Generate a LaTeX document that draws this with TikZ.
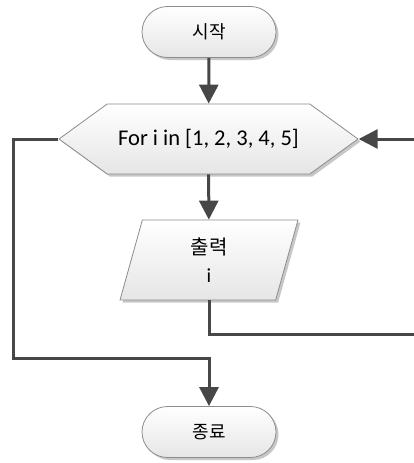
\documentclass[tikz,border=0pt]{standalone}
\usepackage{fontspec}
\setmainfont{Carlito}
\newfontfamily\kr{Noto Sans CJK KR}
\usetikzlibrary{shapes.misc,shapes.geometric,shapes.symbols,arrows.meta,shadows}

\tikzset{
  box/.style={draw=black!45, line width=0.8pt, top color=white, bottom color=black!10,
    drop shadow={shadow xshift=2.5pt, shadow yshift=-2.5pt, opacity=0.22, fill=black}},
  term/.style={box, rounded rectangle, minimum width=134pt, minimum height=51pt,
    inner sep=0pt, font=\kr\fontsize{18}{22}\selectfont},
  loopbox/.style={box, signal, signal to=east and west, signal pointer angle=72,
    minimum width=299pt, minimum height=70pt, inner sep=0pt,
    font=\fontsize{22.5}{26}\selectfont},
  iobox/.style={box, trapezium, trapezium left angle=63.4, trapezium right angle=116.6,
    trapezium stretches body, minimum width=178pt, minimum height=80pt, inner sep=0pt,
    align=center, font=\fontsize{20}{28}\selectfont},
  flow/.style={draw=black!72, line width=3pt},
  arr/.style={flow, -{Triangle[length=19pt,width=19pt]}},
}

\begin{document}
\begin{tikzpicture}[x=1pt, y=-1pt]
  \useasboundingbox (0,0) rectangle (413,463);

  % flowchart blocks
  \node[term]    (start) at (209,32)    {시작};
  \node[loopbox] (loop)  at (208.5,139) {For i in [1, 2, 3, 4, 5]};
  \node[iobox]   (out)   at (209,260)   {{\kr 출력}\\i};
  \node[term]    (stop)  at (209,432)   {종료};

  % corner points of the loop-back and exit paths
  \coordinate (rb) at (418,334);
  \coordinate (rt) at (418,139);
  \coordinate (lt) at (13,139);
  \coordinate (lb) at (13,358);

  % connectors
  \draw[arr] (start) -- (loop);
  \draw[arr] (loop) -- (out);
  \draw[arr] (out.south) |- (rb) -- (rt) -- (loop.east);
  \draw[arr] (loop.west) -- (lt) -- (lb) -| (stop.north);
\end{tikzpicture}
\end{document}
